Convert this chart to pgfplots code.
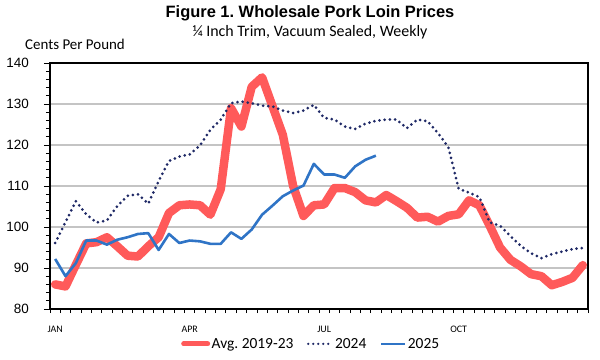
\documentclass[border=0pt]{standalone}
\usepackage{pgfplots}
\pgfplotsset{compat=1.18}
\usepackage{pgfplotstable}
\usepackage{fontspec}
\setmainfont{Carlito}
\newfontfamily\arialf{Liberation Sans}
\definecolor{avgred}{HTML}{FF5A5A}
\definecolor{navy}{HTML}{1F2966}
\definecolor{blueB}{HTML}{2F74C6}
\definecolor{gridc}{HTML}{C4C4C4}
\frenchspacing

\pgfplotstableread{
w v
1 86.0
2 85.5
3 90.8
4 96.0
5 96.3
6 97.5
7 95.3
8 93.0
9 92.8
10 95.3
11 97.5
12 103.4
13 105.3
14 105.5
15 105.3
16 103.0
17 109.2
18 129.0
19 124.5
20 134.2
21 136.5
22 129.5
23 122.5
24 110.0
25 102.7
26 105.3
27 105.5
28 109.5
29 109.5
30 108.5
31 106.5
32 106.0
33 107.8
34 106.3
35 104.7
36 102.3
37 102.5
38 101.3
39 102.7
40 103.1
41 106.5
42 105.3
43 100.3
44 95.0
45 92.0
46 90.4
47 88.5
48 88.0
49 85.8
50 86.6
51 87.6
52 90.7
}\avgdata

\pgfplotstableread{
w v
1 96.1
2 101.2
3 106.3
4 103.1
5 101.1
6 101.6
7 105.1
8 107.6
9 108.0
10 105.7
11 111.2
12 116.1
13 117.2
14 117.7
15 119.9
16 123.7
17 126.2
18 130.2
19 130.6
20 130.2
21 129.6
22 129.4
23 128.4
24 127.8
25 128.4
26 129.8
27 126.6
28 126.2
29 124.5
30 123.9
31 125.2
32 125.9
33 126.2
34 126.2
35 124.1
36 126.2
37 125.8
38 122.9
39 119.5
40 109.3
41 108.4
42 107.3
43 101.1
44 100.3
45 97.8
46 95.4
47 93.6
48 92.4
49 93.4
50 94.0
51 94.6
52 94.9
}\dataA

\pgfplotstableread{
w v
1 92.2
2 88.0
3 91.2
4 96.7
5 96.7
6 95.7
7 96.9
8 97.5
9 98.3
10 98.5
11 94.4
12 98.3
13 96.1
14 96.7
15 96.5
16 95.9
17 95.9
18 98.7
19 97.1
20 99.4
21 103.0
22 105.2
23 107.5
24 108.9
25 110.1
26 115.4
27 112.8
28 112.8
29 112.0
30 114.8
31 116.4
32 117.4
}\dataB

\begin{document}
\begin{tikzpicture}
\useasboundingbox (-50bp,-51bp) rectangle (550bp,309bp);
\begin{axis}[
  at={(0,0)}, anchor=south west,
  scale only axis, width=538bp, height=246bp,
  xmin=0.5, xmax=52.5, ymin=80, ymax=140,
  /pgf/number format/assume math mode=true,
  ytick={80,90,...,140},
  minor ytick={82,84,...,138},
  xtick={1,14,27,40},
  xticklabels={JAN,APR,JUL,OCT},
  minor xtick={0.5,1.5,...,52.5},
  xtick pos=left, ytick pos=left,
  tick align=outside,
  major tick length=6bp, minor tick length=4bp,
  major x tick style={draw=none},
  every tick/.style={black, line width=0.8bp},
  ymajorgrids,
  major grid style={draw=gridc, line width=1.1bp},
  axis line style={black, line width=1.7bp},
  yticklabel style={font=\arialf\fontsize{13.5}{15}\selectfont, anchor=east, inner sep=0pt, xshift=-15bp},
  xticklabel style={font=\fontsize{10}{12}\selectfont, anchor=base, inner sep=0pt, yshift=-17bp},
  legend columns=3,
  legend style={draw=none, fill=none, at={(0.485,-0.142)}, anchor=center,
    font=\fontsize{15.5}{18}\selectfont,
    /tikz/every even column/.append style={column sep=12bp},
    nodes={inner sep=1.5bp}},
  legend cell align=left,
  legend image code/.code={\draw[#1] (0bp,0bp) -- (24bp,0bp);},
]
\addlegendimage{avgred, line width=5bp, line cap=round}
\addlegendentry{Avg. 2019-23}
\addlegendimage{navy, line width=2.6bp, line cap=round, dash pattern=on 0bp off 5bp}
\addlegendentry{2024}
\addlegendimage{blueB, line width=2.5bp}
\addlegendentry{2025}

\addplot[forget plot, avgred, line width=8.5bp, line join=round, line cap=round] table[x=w,y=v] {\avgdata};
\addplot[forget plot, navy, line width=3bp, line cap=round, dash pattern=on 0bp off 5.2bp] table[x=w,y=v] {\dataA};
\addplot[forget plot, blueB, line width=2.6bp, line join=round] table[x=w,y=v] {\dataB};
\end{axis}
\node[anchor=base, inner sep=0pt, font=\arialf\bfseries\fontsize{16.5}{19}\selectfont] at (260bp,291bp) {Figure 1. Wholesale Pork Loin Prices};
\node[anchor=base, inner sep=0pt, font=\fontsize{16}{19}\selectfont] at (260bp,272bp) {¼ Inch Trim, Vacuum Sealed, Weekly};
\node[anchor=base west, inner sep=0pt, font=\fontsize{15}{18}\selectfont] at (-25bp,259bp) {Cents Per Pound};
\end{tikzpicture}
\end{document}
